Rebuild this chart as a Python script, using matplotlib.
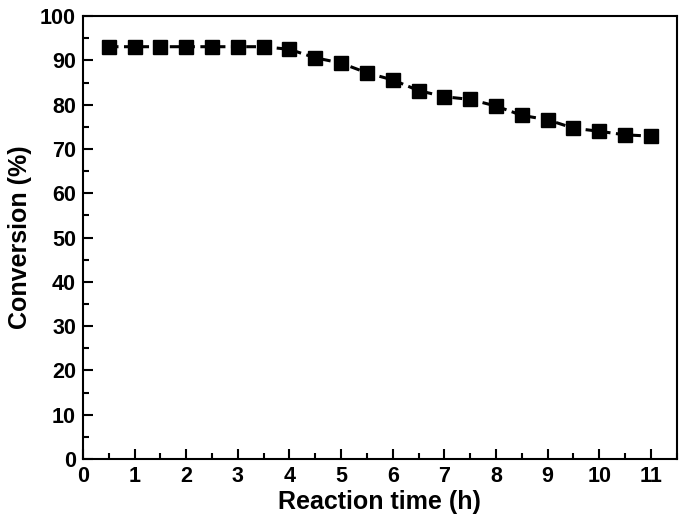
import matplotlib
matplotlib.use('Agg')
import matplotlib.pyplot as plt
from matplotlib.ticker import MultipleLocator

# reaction time (h) and conversion (%)
time_h = [0.5, 1, 1.5, 2, 2.5, 3, 3.5, 4, 4.5, 5, 5.5, 6, 6.5, 7, 7.5, 8, 8.5, 9, 9.5, 10, 10.5, 11]
conversion = [93.1, 93.1, 93.1, 93.1, 93.1, 93.1, 93.1, 92.5, 90.6, 89.4, 87.2, 85.6, 83.2, 81.8, 81.2, 79.7, 77.6, 76.6, 74.7, 74.0, 73.2, 72.9]

plt.rcParams['font.family'] = ['Liberation Sans', 'DejaVu Sans']
plt.rcParams['font.weight'] = 'bold'

fig = plt.figure(figsize=(6.85, 5.21), dpi=100)
ax = fig.add_axes([0.121, 0.119, 0.867, 0.850])

ax.plot(time_h, conversion, color='black', linestyle='--', linewidth=2.2,
        dashes=(3.2, 1.8), marker='s', markersize=10)

ax.set_xlim(0, 11.5)
ax.set_ylim(0, 100)
ax.xaxis.set_major_locator(MultipleLocator(1))
ax.xaxis.set_minor_locator(MultipleLocator(0.5))
ax.yaxis.set_major_locator(MultipleLocator(10))
ax.yaxis.set_minor_locator(MultipleLocator(5))
ax.tick_params(which='both', direction='in', top=False, right=False, width=1.5, labelsize=15.5)
ax.tick_params(which='major', length=7, pad=5)
ax.tick_params(which='minor', length=4)
for s in ax.spines.values():
    s.set_linewidth(1.5)

ax.set_xlabel('Reaction time (h)', fontsize=18, fontweight='bold', labelpad=2)
ax.set_ylabel('Conversion (%)', fontsize=18, fontweight='bold', labelpad=6)

fig.savefig('out.png', dpi=100)
